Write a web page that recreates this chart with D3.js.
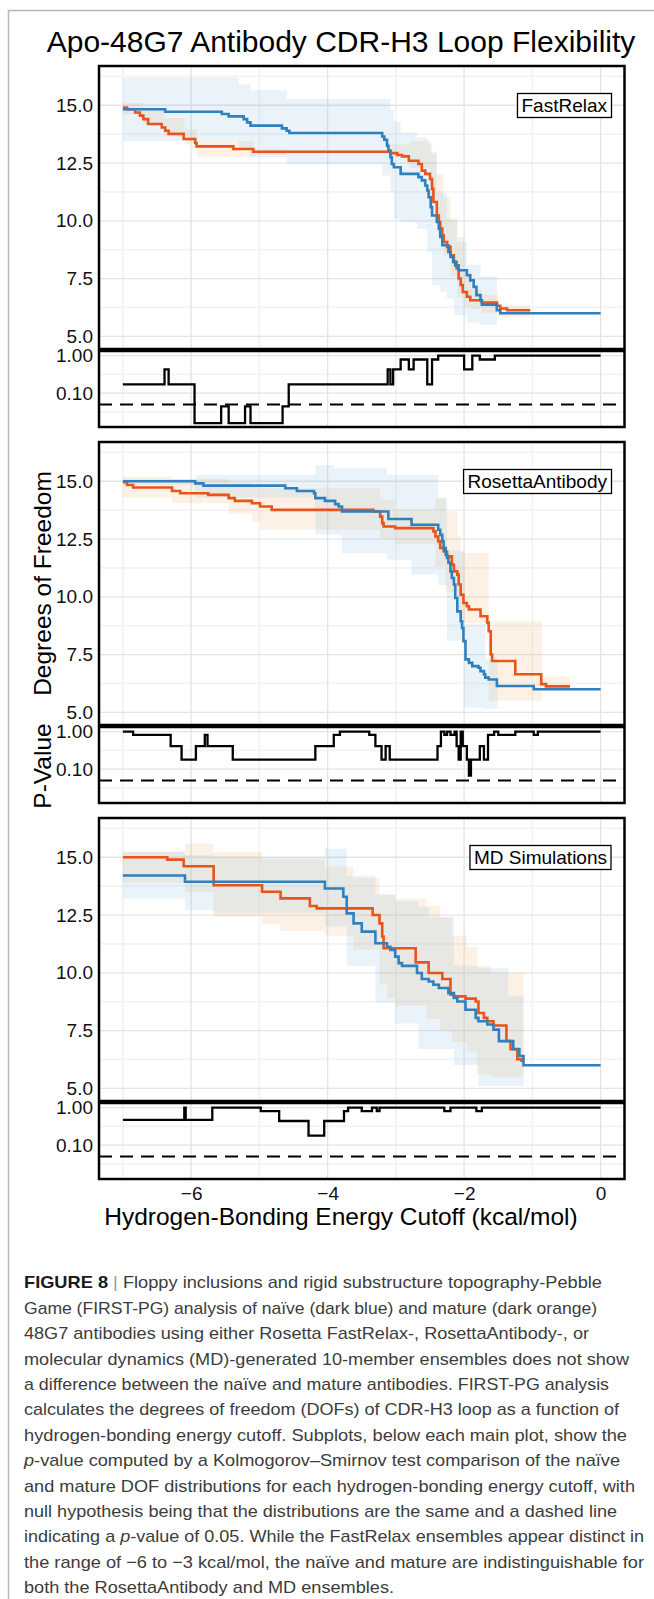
<!DOCTYPE html>
<html>
<head>
<meta charset="utf-8">
<script src="https://cdn.jsdelivr.net/npm/d3@7"></script>
<style>
  body { margin: 0; background: #fff; }
  svg text { font-family: "Liberation Sans", Arial, Helvetica, sans-serif; }
</style>
</head>
<body>
<div id="figure"></div>
<script>
var graphtitle = "Apo-48G7 Antibody CDR-H3 Loop Flexibility";
var xTitle = "Hydrogen-Bonding Energy Cutoff (kcal/mol)";
var yTitle = "Degrees of Freedom";
var pTitle = "P-Value";
var panelNames = ["FastRelax", "RosettaAntibody", "MD Simulations"];
var xTicks = [-6, -4, -2, 0];
var dofTicks = [5, 7.5, 10, 12.5, 15];
var pTicks = [0.1, 1];
var pCutoff = 0.05;

// [cutoff, DOF] step points, naive = blue, mature = orange
var frNaive = [[-7.00,14.83],[-6.38,14.72],[-5.55,14.62],[-5.45,14.52],[-5.23,14.40],[-5.18,14.26],[-5.13,14.12],[-4.67,14.00],[-4.60,13.90],[-4.56,13.80],[-3.20,13.65],[-3.17,13.51],[-3.13,13.25],[-3.11,13.04],[-3.08,12.75],[-3.06,12.46],[-3.03,12.32],[-2.93,12.03],[-2.67,11.89],[-2.62,11.75],[-2.57,11.53],[-2.54,11.31],[-2.52,11.02],[-2.49,10.59],[-2.47,10.23],[-2.40,9.95],[-2.37,9.66],[-2.35,9.30],[-2.32,8.94],[-2.23,8.65],[-2.20,8.43],[-2.16,8.22],[-2.13,8.07],[-2.08,7.86],[-1.96,7.64],[-1.91,7.42],[-1.86,7.14],[-1.82,6.78],[-1.76,6.56],[-1.74,6.37],[-1.52,6.13],[-1.47,6.00],[0.00,6.00]];
var frMature = [[-7.00,14.90],[-6.94,14.83],[-6.82,14.69],[-6.75,14.55],[-6.70,14.40],[-6.63,14.19],[-6.43,14.04],[-6.38,13.90],[-6.33,13.76],[-6.11,13.54],[-5.94,13.37],[-5.92,13.22],[-5.38,13.11],[-5.09,12.99],[-3.08,12.93],[-2.98,12.85],[-2.91,12.79],[-2.81,12.60],[-2.67,12.46],[-2.62,12.17],[-2.57,12.03],[-2.50,11.81],[-2.47,11.38],[-2.45,10.81],[-2.40,10.23],[-2.37,9.94],[-2.35,9.66],[-2.32,9.37],[-2.30,9.08],[-2.25,8.87],[-2.20,8.51],[-2.15,8.22],[-2.11,7.94],[-2.08,7.50],[-2.05,7.22],[-2.02,6.92],[-1.96,6.71],[-1.91,6.56],[-1.74,6.46],[-1.52,6.32],[-1.47,6.20],[-1.37,6.13],[-1.03,6.13]];
// [cutoff, lower, upper]
var frNaiveBand = [[-7.00,13.45,16.20],[-5.30,13.15,15.90],[-5.13,12.75,15.65],[-4.60,12.45,15.27],[-3.20,11.96,15.27],[-3.08,11.24,14.80],[-3.03,10.08,14.30],[-2.93,9.94,13.82],[-2.69,9.66,13.60],[-2.54,8.65,13.35],[-2.47,7.21,12.90],[-2.40,7.21,11.20],[-2.35,6.92,11.20],[-2.25,6.63,10.10],[-2.15,5.91,10.10],[-2.10,5.91,9.08],[-1.96,5.60,8.10],[-1.76,5.50,7.60],[-1.52,5.50,7.60]];
var frMatureBand = [[-7.00,14.60,15.10],[-6.70,14.20,14.85],[-6.40,13.65,14.45],[-6.10,13.30,13.95],[-5.92,12.75,13.45],[-5.09,12.85,13.10],[-4.60,12.93,13.05],[-3.10,12.80,13.30],[-2.80,12.30,13.45],[-2.50,11.00,13.00],[-2.40,9.50,12.00],[-2.30,8.50,11.00],[-2.20,7.60,10.00],[-2.10,6.70,9.30],[-2.00,6.30,7.80],[-1.90,6.20,7.00],[-1.75,6.00,6.80],[-1.50,5.85,6.35],[-1.03,5.85,6.35]];
// [cutoff, p]
var frPvalue = [[-7.00,0.17],[-6.39,0.43],[-6.33,0.17],[-5.95,0.0158],[-5.56,0.044],[-5.45,0.0158],[-5.21,0.044],[-5.13,0.0158],[-4.66,0.044],[-4.57,0.17],[-3.12,0.43],[-3.08,0.17],[-3.04,0.43],[-2.93,0.79],[-2.81,0.43],[-2.74,0.79],[-2.54,0.17],[-2.47,0.79],[-2.38,1.0],[-2.00,0.43],[-1.88,1.0],[-1.77,0.79],[-1.55,1.0],[0.00,1.0]];

var raNaive = [[-7.00,15.00],[-5.94,14.91],[-5.82,14.81],[-4.62,14.70],[-4.45,14.58],[-4.20,14.48],[-4.18,14.27],[-4.04,14.15],[-3.89,14.01],[-3.84,13.91],[-3.79,13.69],[-3.11,13.37],[-2.77,13.12],[-2.38,12.90],[-2.35,12.68],[-2.32,12.40],[-2.30,12.11],[-2.27,11.82],[-2.25,11.68],[-2.23,11.46],[-2.20,11.10],[-2.18,10.81],[-2.15,10.53],[-2.13,9.95],[-2.10,9.37],[-2.05,8.94],[-2.03,8.65],[-2.01,8.08],[-1.98,7.29],[-1.93,7.14],[-1.88,7.00],[-1.79,6.93],[-1.76,6.78],[-1.71,6.64],[-1.69,6.50],[-1.64,6.42],[-1.52,6.14],[-0.98,6.00],[0.00,6.00]];
var raMature = [[-7.00,14.96],[-6.94,14.84],[-6.85,14.73],[-6.28,14.58],[-6.16,14.48],[-5.75,14.41],[-5.45,14.27],[-5.36,14.15],[-5.11,14.05],[-4.99,13.91],[-4.82,13.76],[-3.33,13.69],[-3.23,13.47],[-3.20,13.19],[-3.18,13.04],[-3.01,12.97],[-2.45,12.83],[-2.42,12.61],[-2.38,12.40],[-2.35,12.11],[-2.30,11.96],[-2.25,11.75],[-2.18,11.39],[-2.15,11.10],[-2.10,10.96],[-2.08,10.53],[-2.05,10.09],[-2.01,9.73],[-1.96,9.59],[-1.93,9.45],[-1.76,9.16],[-1.66,8.87],[-1.64,8.51],[-1.61,7.50],[-1.59,7.22],[-1.25,6.65],[-0.87,6.22],[-0.80,6.12],[-0.45,6.12]];
var raNaiveBand = [[-7.00,14.85,15.10],[-5.94,14.30,15.27],[-4.18,12.68,15.70],[-3.91,12.68,15.56],[-3.79,11.90,15.56],[-3.13,11.60,15.27],[-2.77,10.96,15.27],[-2.38,10.50,14.30],[-2.25,8.10,12.00],[-2.00,5.20,8.80],[-1.69,5.15,7.30],[-1.51,5.15,7.30]];
var raMatureBand = [[-7.00,14.30,15.20],[-6.28,14.05,15.10],[-5.45,13.60,14.95],[-5.11,13.25,14.85],[-4.99,12.90,14.70],[-3.23,12.50,14.20],[-3.01,12.30,13.80],[-2.42,11.30,14.27],[-2.27,10.20,13.70],[-2.10,9.20,12.60],[-2.05,8.87,11.90],[-1.64,5.50,8.94],[-0.86,5.95,6.55],[-0.45,5.95,6.55]];
var raPvalue = [[-7.00,1.0],[-6.85,0.82],[-6.30,0.41],[-6.14,0.18],[-5.93,0.41],[-5.80,0.82],[-5.76,0.41],[-5.39,0.18],[-4.18,0.41],[-3.91,0.82],[-3.82,1.0],[-3.39,0.82],[-3.30,0.41],[-3.21,0.18],[-3.15,0.41],[-3.09,0.18],[-2.39,0.41],[-2.34,1.0],[-2.29,0.82],[-2.25,1.0],[-2.20,0.82],[-2.14,1.0],[-2.11,0.41],[-2.08,0.18],[-2.05,1.0],[-2.02,0.41],[-1.96,0.18],[-1.93,0.067],[-1.90,0.18],[-1.77,0.41],[-1.71,0.18],[-1.65,0.82],[-1.56,1.0],[-1.50,0.82],[-1.25,1.0],[-0.98,0.82],[-0.92,1.0],[0.00,1.0]];

var mdNaive = [[-7.00,14.21],[-6.09,13.94],[-4.04,13.65],[-3.77,13.29],[-3.72,12.57],[-3.62,12.14],[-3.50,11.78],[-3.30,11.28],[-3.13,11.13],[-3.08,10.99],[-3.01,10.70],[-2.96,10.42],[-2.91,10.30],[-2.69,9.99],[-2.62,9.73],[-2.52,9.62],[-2.45,9.48],[-2.37,9.34],[-2.23,9.12],[-2.15,8.91],[-2.10,8.76],[-1.98,8.40],[-1.83,8.05],[-1.79,7.90],[-1.66,7.76],[-1.57,7.54],[-1.49,7.04],[-1.28,6.70],[-1.19,6.40],[-1.13,6.00],[0.00,6.00]];
var mdMature = [[-7.00,15.00],[-6.35,14.90],[-6.11,14.61],[-5.67,13.79],[-4.96,13.51],[-4.69,13.22],[-4.26,12.89],[-4.16,12.79],[-3.34,12.50],[-3.24,12.14],[-3.20,11.57],[-3.18,11.06],[-2.71,10.45],[-2.52,9.99],[-2.32,9.73],[-2.20,9.05],[-2.15,8.98],[-1.98,8.88],[-1.83,8.76],[-1.79,8.26],[-1.71,8.05],[-1.66,7.90],[-1.57,7.72],[-1.38,7.05],[-1.32,6.69],[-1.22,6.26],[-1.16,6.19],[-1.13,6.19]];
var mdNaiveBand = [[-7.00,13.22,15.23],[-6.09,12.72,15.10],[-5.67,12.60,15.00],[-4.04,12.00,15.37],[-3.72,10.30,14.20],[-3.30,8.70,13.40],[-3.01,7.80,13.10],[-2.67,6.70,12.85],[-2.52,6.70,12.40],[-2.15,6.00,10.30],[-1.79,5.10,10.20],[-1.35,5.10,9.00],[-1.13,5.10,9.00]];
var mdMatureBand = [[-7.00,13.90,15.25],[-6.09,13.50,15.60],[-5.67,12.43,15.23],[-4.96,12.10,14.90],[-4.69,11.80,14.90],[-4.04,11.60,14.60],[-3.62,11.00,14.10],[-3.24,9.50,13.36],[-3.13,8.90,13.36],[-3.01,8.60,13.20],[-2.55,8.00,12.90],[-2.35,7.50,12.40],[-2.18,7.00,11.60],[-1.96,6.60,11.10],[-1.81,5.60,10.30],[-1.61,5.50,10.00],[-1.13,5.50,10.00]];
var mdPvalue = [[-7.00,0.47],[-6.10,1.0],[-6.08,0.47],[-5.69,1.0],[-4.98,0.81],[-4.71,0.44],[-4.28,0.18],[-4.05,0.44],[-3.76,0.81],[-3.70,1.0],[-3.50,0.81],[-3.35,1.0],[-3.28,0.81],[-3.24,1.0],[-2.29,0.81],[-2.20,1.0],[-1.82,0.81],[-1.74,1.0],[0.00,1.0]];

var captionLines = [
  "**FIGURE 8** | Floppy inclusions and rigid substructure topography-Pebble",
  "Game (FIRST-PG) analysis of naïve (dark blue) and mature (dark orange)",
  "48G7 antibodies using either Rosetta FastRelax-, RosettaAntibody-, or",
  "molecular dynamics (MD)-generated 10-member ensembles does not show",
  "a difference between the naïve and mature antibodies. FIRST-PG analysis",
  "calculates the degrees of freedom (DOFs) of CDR-H3 loop as a function of",
  "hydrogen-bonding energy cutoff. Subplots, below each main plot, show the",
  "*p*-value computed by a Kolmogorov–Smirnov test comparison of the naïve",
  "and mature DOF distributions for each hydrogen-bonding energy cutoff, with",
  "null hypothesis being that the distributions are the same and a dashed line",
  "indicating a *p*-value of 0.05. While the FastRelax ensembles appear distinct in",
  "the range of −6 to −3 kcal/mol, the naïve and mature are indistinguishable for",
  "both the RosettaAntibody and MD ensembles."
];
// rendered width of each caption line in the reference layout
var captionWidths = [578, 573, 565, 605, 585, 595, 603, 596, 611, 593, 620, 620, 370];

(function mainfigure() {

  var width = 654, height = 1599;
  var left = 99, right = 624.5;
  var firstTop = 66, pitch = 376, mainH = 283, gap = 2, pH = 76;

  var naiveColor = "#2f80bf", matureColor = "#e8541a";

  var panels = [
    {name: panelNames[0], naive: frNaive, mature: frMature, naiveBand: frNaiveBand, matureBand: frMatureBand, pval: frPvalue},
    {name: panelNames[1], naive: raNaive, mature: raMature, naiveBand: raNaiveBand, matureBand: raMatureBand, pval: raPvalue},
    {name: panelNames[2], naive: mdNaive, mature: mdMature, naiveBand: mdNaiveBand, matureBand: mdMatureBand, pval: mdPvalue}
  ];

  var x = d3.scaleLinear()
    .domain([-7.35, 0.35])
    .range([left, right]);

  var xMinor = xTicks.map(function(d) { return d - 1; });
  var dofMinor = dofTicks.map(function(d) { return d + 1.25; });
  var pMinor = [0.0316, 0.316];

  var svg = d3.select("#figure").append("svg")
    .attr("width", width)
    .attr("height", height)
    .style("display", "block")
    .style("background", "#fff");

  // outer figure border
  svg.append("path")
    .attr("d", "M8.5," + height + "V10.5H" + width)
    .attr("fill", "none")
    .attr("stroke", "#b8b8b8")
    .attr("stroke-width", 1.5);

  svg.append("text")
    .attr("x", 341)
    .attr("y", 52)
    .attr("text-anchor", "middle")
    .attr("font-size", 30)
    .attr("fill", "#000")
    .text(graphtitle);

  panels.forEach(function(p, i) {
    var top = firstTop + i * pitch;
    var pTop = top + mainH + gap;
    var g = svg.append("g");

    var y = d3.scaleLinear()
      .domain([4.45, 16.7])
      .range([top + mainH, top]);

    var yp = d3.scaleLog()
      .domain([0.01245, 1.33])
      .range([pTop + pH, pTop]);

    // grid
    function vgrid(vals, y0, y1, col, w) {
      g.selectAll(null).data(vals).enter().append("line")
        .attr("x1", function(d) { return x(d); })
        .attr("x2", function(d) { return x(d); })
        .attr("y1", y0).attr("y2", y1)
        .attr("stroke", col).attr("stroke-width", w);
    }
    function hgrid(vals, sc, col, w) {
      g.selectAll(null).data(vals).enter().append("line")
        .attr("x1", left).attr("x2", right)
        .attr("y1", function(d) { return sc(d); })
        .attr("y2", function(d) { return sc(d); })
        .attr("stroke", col).attr("stroke-width", w);
    }
    hgrid(dofMinor.filter(function(d) { return d < 16.7; }), y, "#f3f3f3", 1.8);
    hgrid(pMinor, yp, "#f3f3f3", 1.8);
    vgrid(xMinor, top, top + mainH, "#f3f3f3", 1.8);
    vgrid(xMinor, pTop, pTop + pH, "#f3f3f3", 1.8);
    hgrid(dofTicks, y, "#e4e4e4", 1.3);
    hgrid(pTicks, yp, "#e4e4e4", 1.3);
    vgrid(xTicks, top, top + mainH, "#e4e4e4", 1.3);
    vgrid(xTicks, pTop, pTop + pH, "#e4e4e4", 1.3);

    var band = d3.area()
      .x(function(d) { return x(d[0]); })
      .y0(function(d) { return y(d[1]); })
      .y1(function(d) { return y(d[2]); })
      .curve(d3.curveStepAfter);

    var line = d3.line()
      .x(function(d) { return x(d[0]); })
      .y(function(d) { return y(d[1]); })
      .curve(d3.curveStepAfter);

    g.append("path")
      .datum(p.matureBand)
      .attr("d", band)
      .attr("fill", "#f2b46e")
      .attr("fill-opacity", 0.18);

    g.append("path")
      .datum(p.naiveBand)
      .attr("d", band)
      .attr("fill", "#7ab8dc")
      .attr("fill-opacity", 0.17);

    g.append("path")
      .datum(p.mature)
      .attr("d", line)
      .attr("fill", "none")
      .attr("stroke", matureColor)
      .attr("stroke-width", 2.6);

    g.append("path")
      .datum(p.naive)
      .attr("d", line)
      .attr("fill", "none")
      .attr("stroke", naiveColor)
      .attr("stroke-width", 2.6);

    // p-value subplot
    g.append("line")
      .attr("x1", left).attr("x2", right)
      .attr("y1", yp(pCutoff)).attr("y2", yp(pCutoff))
      .attr("stroke", "#000")
      .attr("stroke-width", 2)
      .attr("stroke-dasharray", "13,8");

    g.append("path")
      .datum(p.pval)
      .attr("d", d3.line()
        .x(function(d) { return x(d[0]); })
        .y(function(d) { return yp(d[1]); })
        .curve(d3.curveStepAfter))
      .attr("fill", "none")
      .attr("stroke", "#000")
      .attr("stroke-width", 2.3);

    // frames
    g.append("rect")
      .attr("x", left).attr("y", top)
      .attr("width", right - left).attr("height", mainH)
      .attr("fill", "none").attr("stroke", "#000").attr("stroke-width", 2.5);
    g.append("rect")
      .attr("x", left).attr("y", pTop)
      .attr("width", right - left).attr("height", pH)
      .attr("fill", "none").attr("stroke", "#000").attr("stroke-width", 2.5);

    // axes
    g.append("g")
      .attr("transform", "translate(" + left + ",0)")
      .call(d3.axisLeft(y).tickValues(dofTicks).tickFormat(d3.format(".1f")).tickSize(0).tickPadding(6))
      .attr("font-size", 19)
      .style("color", "#111")
      .call(function(a) { a.select(".domain").remove(); });

    g.append("g")
      .attr("transform", "translate(" + left + ",0)")
      .call(d3.axisLeft(yp).tickValues(pTicks).tickFormat(d3.format(".2f")).tickSize(0).tickPadding(6))
      .attr("font-size", 19)
      .style("color", "#111")
      .call(function(a) { a.select(".domain").remove(); });

    if (i === panels.length - 1) {
      g.append("g")
        .attr("transform", "translate(0," + (pTop + pH) + ")")
        .call(d3.axisBottom(x).tickValues(xTicks).tickSize(0).tickPadding(7.5))
        .attr("font-size", 19)
        .style("color", "#111")
        .call(function(a) { a.select(".domain").remove(); });
    }

    // method label
    var lab = g.append("text")
      .attr("x", 607)
      .attr("y", top + 46)
      .attr("text-anchor", "end")
      .attr("font-size", 19)
      .attr("fill", "#000")
      .text(p.name);
    var bb = lab.node().getBBox();
    g.insert("rect", function() { return lab.node(); })
      .attr("x", bb.x - 4)
      .attr("y", top + 27.5)
      .attr("width", bb.width + 8)
      .attr("height", 24)
      .attr("fill", "#fff")
      .attr("stroke", "#000")
      .attr("stroke-width", 1.3);
  });

  svg.append("text")
    .attr("transform", "translate(51," + (firstTop + pitch + mainH / 2) + ") rotate(-90)")
    .attr("text-anchor", "middle")
    .attr("font-size", 24.5)
    .text(yTitle);

  svg.append("text")
    .attr("transform", "translate(51," + (firstTop + pitch + mainH + gap + pH / 2 + 1) + ") rotate(-90)")
    .attr("text-anchor", "middle")
    .attr("font-size", 24.5)
    .text(pTitle);

  svg.append("text")
    .attr("x", 341)
    .attr("y", 1225)
    .attr("text-anchor", "middle")
    .attr("font-size", 24.5)
    .text(xTitle);

  // caption
  var cap = svg.append("g");
  captionLines.forEach(function(str, i) {
    var t = cap.append("text")
      .attr("x", 24)
      .attr("y", 1288.3 + i * 25.4)
      .attr("font-size", 17)
      .attr("fill", "#3c3c3c")
      .attr("textLength", captionWidths[i])
      .attr("lengthAdjust", "spacingAndGlyphs");
    str.split(/(\*\*[^*]+\*\*|\*[^*]+\*)/).forEach(function(part) {
      if (!part) return;
      if (part.indexOf("**") === 0) {
        t.append("tspan").attr("font-weight", "bold").attr("fill", "#1a1a1a").text(part.slice(2, -2));
      } else if (part.charAt(0) === "*") {
        t.append("tspan").attr("font-style", "italic").text(part.slice(1, -1));
      } else if (part.indexOf(" | ") === 0) {
        t.append("tspan").text(" ");
        t.append("tspan").attr("fill", "#999").text("|");
        t.append("tspan").text(part.slice(2));
      } else {
        t.append("tspan").text(part);
      }
    });
  });

})();
</script>
</body>
</html>
